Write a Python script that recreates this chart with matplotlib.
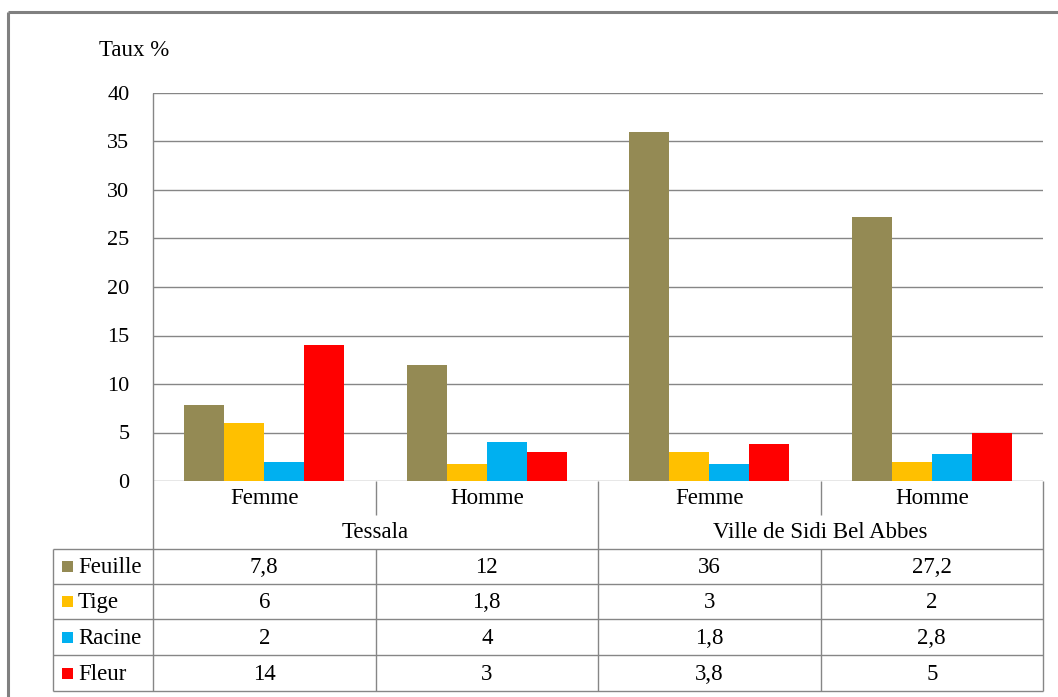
import matplotlib
matplotlib.use("Agg")
import matplotlib.pyplot as plt
from matplotlib.lines import Line2D
from matplotlib.patches import Rectangle
import numpy as np

# ---- data ----
sexes = ["Femme", "Homme", "Femme", "Homme"]
sites = ["Tessala", "Ville de Sidi Bel Abbes"]
parts = ["Feuille", "Tige", "Racine", "Fleur"]
feuille = [7.8, 12, 36, 27.2]
tige = [6, 1.8, 3, 2]
racine = [2, 4, 1.8, 2.8]
fleur = [14, 3, 3.8, 5]
y_ticks = [0, 5, 10, 15, 20, 25, 30, 35, 40]
y_label = "Taux %"

series = [feuille, tige, racine, fleur]
colors = ["#948A54", "#FFC000", "#00B0F0", "#FF0000"]
grey = "#868686"
FONT = "Liberation Serif"
FS = 16.5
FS_TICK = 16

W, H = 1058, 697
fig = plt.figure(figsize=(W / 100, H / 100), dpi=100)

# plot area in pixel coordinates
px_l, px_r, px_t, px_b = 153, 1043, 93, 481
ax = fig.add_axes([px_l / W, 1 - px_b / H, (px_r - px_l) / W, (px_b - px_t) / H])
n = len(sexes)
x = np.arange(n) + 0.5
bw = 0.18
for i, (vals, c) in enumerate(zip(series, colors)):
    ax.bar(x + (i - 1.5) * bw, vals, width=bw, color=c, edgecolor="none", zorder=2)
ax.set_xlim(0, n)
ax.set_ylim(0, 40)
ax.set_yticks(y_ticks)
ax.set_yticklabels([str(t) for t in y_ticks], fontfamily=FONT, fontsize=FS_TICK)
ax.set_xticks([])
ax.tick_params(axis="y", length=0, pad=17)
ax.yaxis.grid(True, color=grey, linewidth=1.0)
ax.set_axisbelow(True)
for s in ax.spines.values():
    s.set_visible(False)

# overlay in pixel coordinates for the category rows, data table and frame
ov = fig.add_axes([0, 0, 1, 1], zorder=5)
ov.set_xlim(0, W)
ov.set_ylim(H, 0)
ov.axis("off")
ov.patch.set_alpha(0)


def seg(x0, y0, x1, y1, lw=1.0, color=grey):
    ov.add_line(Line2D([x0, x1], [y0, y1], color=color, linewidth=lw,
                       solid_capstyle="butt", clip_on=False))


# outer chart frame
seg(8, 12, 8, H, lw=2.2, color="#808080")
seg(8, 12, W, 12, lw=2.2, color="#808080")

col_w = (px_r - px_l) / n
cols = [px_l + k * col_w for k in range(n + 1)]
row_sex = (481, 515)
row_site = (515, 549)
rows = [549, 584, 619, 655, 691]
tab_l = 53

# vertical lines
seg(px_l, px_t, px_l, rows[-1])
seg(px_r, px_b, px_r, rows[-1])
seg(cols[2], px_b, cols[2], rows[-1])
for k in (1, 3):
    seg(cols[k], px_b, cols[k], row_sex[1])
    seg(cols[k], rows[0], cols[k], rows[-1])
seg(tab_l, rows[0], tab_l, rows[-1])

# horizontal table lines
for yy in rows:
    seg(tab_l, yy, px_r, yy)

txt = dict(fontfamily=FONT, fontsize=FS, color="black", va="center")

# sex row and site row
for k, s in enumerate(sexes):
    ov.text((cols[k] + cols[k + 1]) / 2, (row_sex[0] + row_sex[1]) / 2 + 1, s, ha="center", **txt)
for g, site in enumerate(sites):
    ov.text((cols[2 * g] + cols[2 * g + 2]) / 2, (row_site[0] + row_site[1]) / 2 + 1, site, ha="center", **txt)


def fmt(v):
    return f"{v:g}".replace(".", ",")


# data table rows with legend keys
for r, (name, vals, c) in enumerate(zip(parts, series, colors)):
    yc = (rows[r] + rows[r + 1]) / 2
    ov.add_patch(Rectangle((62, yc - 5.5), 11, 11, facecolor=c, edgecolor="none"))
    ov.text(78, yc + 1, name, ha="left", **txt)
    for k, v in enumerate(vals):
        ov.text((cols[k] + cols[k + 1]) / 2, yc + 1, fmt(v), ha="center", **txt)

ov.text(99, 50, y_label, ha="left", **txt)

fig.savefig("out.png", dpi=100, facecolor="white")
